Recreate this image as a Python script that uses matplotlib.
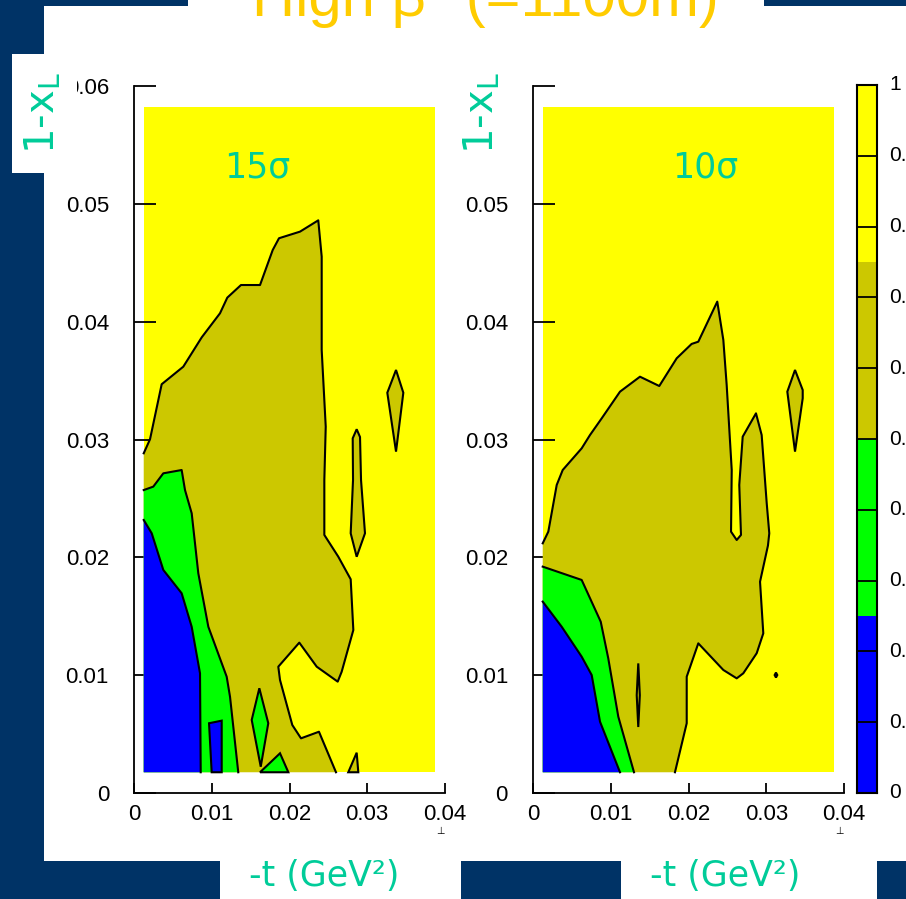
import matplotlib
matplotlib.use("Agg")
import matplotlib.pyplot as plt
from matplotlib.patches import Rectangle, Polygon

# ---------------- data ----------------
T_LO, T_HI = 0.00125, 0.03875
X_LO, X_HI = 0.00176, 0.05824

panel_labels = ["15σ", "10σ"]
panel_label_t = [0.0159, 0.0222]
panel_label_x = [0.0531, 0.0531]
x_ticks = [0, 0.01, 0.02, 0.03, 0.04]
x_tick_labels = ["0", "0.01", "0.02", "0.03", "0.04"]
y_ticks = [0, 0.01, 0.02, 0.03, 0.04, 0.05, 0.06]
y_tick_labels_left = ["0", "0.01", "0.02", "0.03", "0.04", "0.05", "0.06"]
y_tick_labels_right = ["0", "0.01", "0.02", "0.03", "0.04", "0.05", ""]

cbar_levels = [0.0, 0.25, 0.5, 0.75, 1.0]
cbar_colors = ["#0000FF", "#00FF00", "#CCC800", "#FFFF00"]
cbar_ticks = [0, 0.1, 0.2, 0.3, 0.4, 0.5, 0.6, 0.7, 0.8, 0.9, 1.0]
cbar_tick_labels = ["0", "0.1", "0.2", "0.3", "0.4", "0.5", "0.6", "0.7", "0.8", "0.9", "1"]

# ---- 15 sigma contours (t, 1-xL) ----
olive15_t = [0.00125, 0.00206, 0.00356, 0.00634, 0.00871, 0.01106, 0.01200, 0.01376, 0.01621,
             0.01784, 0.01865, 0.02135, 0.02370, 0.02414, 0.02414, 0.02466, 0.02448, 0.02448,
             0.02628, 0.02787, 0.02821, 0.02671, 0.02620, 0.02350, 0.02126, 0.01856, 0.01878,
             0.02036, 0.02148, 0.02379, 0.02598]
olive15_x = [0.02883, 0.03002, 0.03469, 0.03618, 0.03867, 0.04071, 0.04204, 0.04311, 0.04311,
             0.04608, 0.04708, 0.04764, 0.04860, 0.04552, 0.03760, 0.03109, 0.02656, 0.02190,
             0.02005, 0.01814, 0.01383, 0.01029, 0.00945, 0.01072, 0.01276, 0.01072, 0.00959,
             0.00577, 0.00464, 0.00520, 0.00176]
green15_t = [0.00125, 0.00248, 0.00377, 0.00613, 0.00656, 0.00742, 0.00827, 0.00956, 0.01192,
             0.01235, 0.01341]
green15_x = [0.02571, 0.02600, 0.02713, 0.02741, 0.02571, 0.02374, 0.01865, 0.01411, 0.00987,
             0.00817, 0.00176]
blue15_t = [0.00125, 0.00228, 0.00377, 0.00613, 0.00742, 0.00849, 0.00858]
blue15_x = [0.02317, 0.02204, 0.01893, 0.01695, 0.01411, 0.01016, 0.00176]
blue15_patch_t = [0.00999, 0.00965, 0.01128, 0.01128]
blue15_patch_x = [0.00176, 0.00592, 0.00614, 0.00176]
green15_diamond_t = [0.01612, 0.01727, 0.01630, 0.01514]
green15_diamond_x = [0.00889, 0.00592, 0.00223, 0.00620]
green15_tri_t = [0.01621, 0.01878, 0.01985]
green15_tri_x = [0.00176, 0.00337, 0.00176]
olive15_spike_t = [0.02756, 0.02864, 0.02885]
olive15_spike_x = [0.00176, 0.00342, 0.00176]
olive15_diamond_t = [0.03370, 0.03464, 0.03370, 0.03258]
olive15_diamond_x = [0.03590, 0.03397, 0.02897, 0.03397]
olive15_needle_t = [0.02864, 0.02907, 0.02920, 0.02971, 0.02864, 0.02787, 0.02817, 0.02813]
olive15_needle_x = [0.03087, 0.03021, 0.02656, 0.02204, 0.02005, 0.02204, 0.02656, 0.03010]

# ---- 10 sigma contours ----
olive10_t = [0.00125, 0.00197, 0.00305, 0.00382, 0.00626, 0.00733, 0.00884, 0.01119, 0.01376,
             0.01624, 0.01848, 0.02040, 0.02126, 0.02370, 0.02448, 0.02491, 0.02556, 0.02547,
             0.02620, 0.02675, 0.02653, 0.02697, 0.02868, 0.02941, 0.03006, 0.03039, 0.03022,
             0.02920, 0.02962, 0.02877, 0.02705, 0.02620, 0.02448, 0.02126, 0.01977, 0.01977,
             0.01826]
olive10_x = [0.02119, 0.02218, 0.02614, 0.02741, 0.02925, 0.03038, 0.03180, 0.03406, 0.03533,
             0.03454, 0.03689, 0.03811, 0.03830, 0.04170, 0.03845, 0.03463, 0.02741, 0.02218,
             0.02147, 0.02190, 0.02614, 0.03024, 0.03222, 0.03038, 0.02459, 0.02204, 0.02100,
             0.01793, 0.01355, 0.01186, 0.01016, 0.00973, 0.01044, 0.01270, 0.00987, 0.00592,
             0.00176]
green10_t = [0.00125, 0.00626, 0.00871, 0.00968, 0.01097, 0.01299]
green10_x = [0.01921, 0.01808, 0.01454, 0.01143, 0.00648, 0.00176]
blue10_t = [0.00125, 0.00369, 0.00626, 0.00755, 0.00862, 0.01119]
blue10_x = [0.01624, 0.01411, 0.01157, 0.01001, 0.00605, 0.00176]
olive10_diamond_t = [0.03370, 0.03469, 0.03469, 0.03370, 0.03271]
olive10_diamond_x = [0.03590, 0.03420, 0.03350, 0.02897, 0.03406]
olive10_needle_t = [0.01354, 0.01374, 0.01354, 0.01334]
olive10_needle_x = [0.01100, 0.00830, 0.00560, 0.00830]
olive10_dot_t = [0.03125, 0.03142, 0.03125, 0.03108]
olive10_dot_x = [0.01022, 0.01001, 0.00980, 0.01001]

# ---------------- styles ----------------
NAVY = "#003366"
TEAL = "#00CC99"
GOLD = "#FFCC00"
BLUE, GREEN, OLIVE, YELLOW = cbar_colors
LW = 1.5

W, H = 906, 899
fig = plt.figure(figsize=(W / 100, H / 100), dpi=100)
fig.patch.set_facecolor("white")


def fbox(x0, y0, x1, y1):
    """pixel box (top-left origin) -> figure fraction rect"""
    return (x0 / W, 1 - y1 / H, (x1 - x0) / W, (y1 - y0) / H)


def add_rect(x0, y0, x1, y1, color, z):
    l, b, w, h = fbox(x0, y0, x1, y1)
    fig.add_artist(Rectangle((l, b), w, h, transform=fig.transFigure,
                             facecolor=color, edgecolor="none", zorder=z))


# slide background pieces
add_rect(0, 0, 188, 6, NAVY, -10)
add_rect(764, 0, 906, 6, NAVY, -10)
add_rect(0, 0, 44, 899, NAVY, -10)
add_rect(0, 861, 220, 899, NAVY, -10)
add_rect(461, 861, 621, 899, NAVY, -10)
add_rect(877, 861, 906, 899, NAVY, -10)

# title (cut at top)
fig.text(485 / W, 1 - 16 / H, "High β* (=1100m)", color=GOLD, fontsize=43,
         family="Liberation Sans", ha="center", va="baseline")

tick_font = dict(family="Liberation Sans", size=16)


def closed(ax, t, x, fc):
    ax.add_patch(Polygon(list(zip(t, x)), closed=True, facecolor=fc,
                         edgecolor="black", lw=LW, zorder=4))


def region(ax, t, x, fc):
    # region bounded by contour line and the lower-left part of the grid
    pts = list(zip(t, x)) + [(T_LO, X_LO)]
    ax.add_patch(Polygon(pts, closed=True, facecolor=fc, edgecolor="none", zorder=2))
    ax.plot(t, x, color="black", lw=LW, zorder=5, solid_joinstyle="round")


def make_panel(left_px, ylabels, data):
    l, b, w, h = fbox(left_px, 86, left_px + 311, 793)
    ax = fig.add_axes([l, b, w, h])
    ax.set_facecolor("none")
    ax.set_xlim(0, 0.04)
    ax.set_ylim(0, 0.06)
    for s in ["top", "right"]:
        ax.spines[s].set_visible(False)
    for s in ["left", "bottom"]:
        ax.spines[s].set_linewidth(1.3)
    ax.set_xticks(x_ticks)
    ax.set_xticklabels(x_tick_labels, **tick_font)
    ax.set_yticks(y_ticks)
    ax.set_yticklabels(ylabels, **tick_font)
    ax.tick_params(axis="y", direction="in", length=16, width=1.3, pad=18)
    ax.tick_params(axis="x", direction="in", length=7.5, width=1.3, pad=8)
    # grid extent
    ax.add_patch(Rectangle((T_LO, X_LO), T_HI - T_LO, X_HI - X_LO,
                           facecolor=YELLOW, edgecolor="none", zorder=1))
    for kind, t, x, fc in data:
        if kind == "region":
            region(ax, t, x, fc)
        else:
            closed(ax, t, x, fc)
    return ax


ax1 = make_panel(134, y_tick_labels_left, [
    ("region", olive15_t, olive15_x, OLIVE),
    ("region", green15_t, green15_x, GREEN),
    ("region", blue15_t, blue15_x, BLUE),
    ("closed", blue15_patch_t, blue15_patch_x, BLUE),
    ("closed", green15_diamond_t, green15_diamond_x, GREEN),
    ("closed", green15_tri_t, green15_tri_x, GREEN),
    ("closed", olive15_spike_t, olive15_spike_x, OLIVE),
    ("closed", olive15_diamond_t, olive15_diamond_x, OLIVE),
    ("closed", olive15_needle_t, olive15_needle_x, OLIVE),
])
ax2 = make_panel(533, y_tick_labels_right, [
    ("region", olive10_t, olive10_x, OLIVE),
    ("region", green10_t, green10_x, GREEN),
    ("region", blue10_t, blue10_x, BLUE),
    ("closed", olive10_diamond_t, olive10_diamond_x, OLIVE),
    ("closed", olive10_needle_t, olive10_needle_x, OLIVE),
    ("closed", olive10_dot_t, olive10_dot_x, "black"),
])

for ax, lab, lt, lx in zip([ax1, ax2], panel_labels, panel_label_t, panel_label_x):
    ax.text(lt, lx, lab, color=TEAL, fontsize=25, ha="center", va="center",
            family="DejaVu Sans", zorder=6)
    ax.text(0.0394, -0.0032, "⊥", fontsize=7, ha="center", va="center",
            family="DejaVu Sans", clip_on=False)

# label cover box (hides the "0" of the top tick label) + y labels
add_rect(12, 54, 77, 173, "white", 5)
for cx in [43, 482]:
    fig.text(cx / W, 1 - 113 / H, "1-x$_\\mathregular{L}$", color=TEAL, fontsize=29,
             rotation=90, ha="center", va="center", family="DejaVu Sans", zorder=6)

# x labels
for cx in [324, 725]:
    fig.text(cx / W, 1 - 876 / H, "-t (GeV²)", color=TEAL, fontsize=25,
             ha="center", va="center", family="DejaVu Sans", zorder=6)

# colorbar
l, b, w, h = fbox(857, 85, 877, 793)
cax = fig.add_axes([l, b, w, h])
cax.set_xlim(0, 1)
cax.set_ylim(0, 1)
for lo, hi, c in zip(cbar_levels[:-1], cbar_levels[1:], cbar_colors):
    cax.axhspan(lo, hi, color=c, lw=0)
for v in cbar_ticks[1:-1]:
    cax.axhline(v, color="black", lw=1.3)
for s in cax.spines.values():
    s.set_linewidth(1.5)
cax.set_xticks([])
cax.set_yticks([])
for v, lab in zip(cbar_ticks, cbar_tick_labels):
    cax.text(1.6, v, lab, transform=cax.transAxes, ha="left", va="center",
             family="Liberation Sans", size=15, clip_on=False)

fig.savefig("out.png", dpi=100)
